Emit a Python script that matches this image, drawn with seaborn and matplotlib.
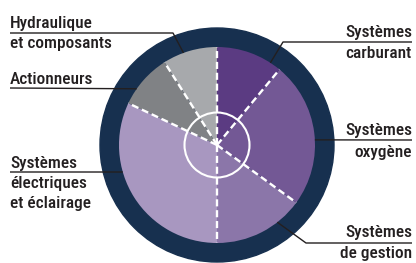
import matplotlib

matplotlib.use("Agg")
import matplotlib.pyplot as plt
import numpy as np
import seaborn as sns
from matplotlib import font_manager
from matplotlib.patches import Circle

# slice order: counter-clockwise starting at 12 o'clock
categories = [
    "Hydraulique et composants",
    "Actionneurs",
    "Systèmes électriques et éclairage",
    "Systèmes de gestion",
    "Systèmes oxygène",
    "Systèmes carburant",
]
shares = [9, 9, 32, 15, 24, 11]
slice_colors = ["#a7a9ac", "#808285", "#a897c0", "#8b76a9", "#735895", "#5b3b82"]

W, H = 416, 263
CX, CY = 217, 263 - 145
R_PIE, R_RING, R_HUB = 98, 117, 32.5
INK = "#231f20"
NAVY = "#17304f"

sns.set_theme(style="white")
installed = {f.name for f in font_manager.fontManager.ttflist}
wanted = ["Roboto Condensed", "Liberation Sans Narrow", "Archivo Narrow", "PT Sans Narrow"]
family = [n for n in wanted if n in installed] + ["DejaVu Sans"]
plt.rcParams["font.family"] = family

fig = plt.figure(figsize=(W / 100, H / 100), dpi=100)
ax = fig.add_axes([0, 0, 1, 1])

ax.add_patch(Circle((CX, CY), R_RING, color=NAVY, zorder=1))
wedges, _ = ax.pie(shares, colors=slice_colors, startangle=90, counterclock=True,
                   radius=R_PIE, center=(CX, CY), frame=True,
                   wedgeprops=dict(linewidth=0))
for w in wedges:
    w.set_zorder(2)
ax.set_xlim(0, W)
ax.set_ylim(0, H)
ax.set_aspect("equal")
ax.axis("off")

# white dashed separators between slices
bounds = 90 + np.cumsum([0] + shares[:-1]) / sum(shares) * 360
for a in np.deg2rad(bounds):
    ax.plot([CX, CX + R_PIE * np.cos(a)], [CY, CY + R_PIE * np.sin(a)],
            color="white", lw=1.7, linestyle=(0, (3.0, 1.6)), zorder=3,
            dash_capstyle="butt")
ax.add_patch(Circle((CX, CY), R_HUB, fill=False, ec="white", lw=1.5, zorder=4))


def edge(angle):
    a = np.deg2rad(angle)
    return CX + R_PIE * np.cos(a), CY + R_PIE * np.sin(a)


def leader(points, angle):
    xs = [p[0] for p in points] + [edge(angle)[0]]
    ys = [H - p[1] for p in points] + [edge(angle)[1]]
    ax.plot(xs, ys, color=INK, lw=1.0, zorder=5, solid_capstyle="butt")


def label(x, y, lines, ha, gap=20):
    for i, line in enumerate(lines):
        ax.text(x, H - (y + i * gap), line, ha=ha, va="baseline",
                fontsize=12.5, color=INK, fontweight="medium")


# left side labels
label(10, 28, ["Hydraulique", "et composants"], "left", gap=20)
leader([(10, 33), (173, 33)], 110)
label(10, 84, ["Actionneurs"], "left")
leader([(10, 88)], 145)
label(10, 168, ["Systèmes", "électriques", "et éclairage"], "left", gap=20)
leader([(10, 172)], 196)

# right side labels
label(412, 37, ["Systèmes", "carburant"], "right", gap=21)
leader([(412, 42), (283, 42)], 57)
label(412, 135, ["Systèmes", "oxygène"], "right", gap=22)
leader([(412, 140)], 3)
label(412, 237, ["Systèmes", "de gestion"], "right", gap=21)
leader([(412, 243), (306, 243)], -52)

fig.savefig("out.png", dpi=100)
plt.close(fig)
